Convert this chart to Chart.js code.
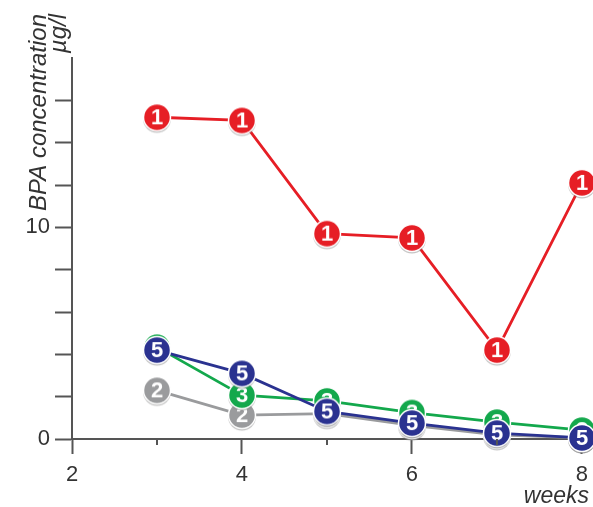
<!DOCTYPE html>
<html>
<head>
<meta charset="utf-8">
<script src="https://cdn.jsdelivr.net/npm/chart.js@4"></script>
<style>
  html, body { margin: 0; padding: 0; background: #fff; }
  #wrap { width: 593px; height: 507px; position: relative; }
</style>
</head>
<body>
<div id="wrap"><canvas id="bpaChart"></canvas></div>
<script>
// Data
const weeks = [3, 4, 5, 6, 7, 8];
const series1 = [15.2, 15.05, 9.7, 9.5, 4.2, 12.1];   // red "1"
const series5 = [4.2, 3.1, 1.3, 0.75, 0.28, 0.05];    // blue "5"
const series3 = [4.34, 2.07, 1.8, 1.25, 0.8, 0.42];   // green "3"
const series2 = [2.3, 1.13, 1.2, 0.65, 0.2, 0.05];    // gray "2"
const yLabelled = [0, 10];
const xMajor = [2, 4, 6, 8];
const xMinor = [3, 5, 7];

const AXIS = "#555";
const TEXT = "#333";

// Round numbered marker used as point style
function makeMarker(color, label) {
  const c = document.createElement("canvas");
  c.width = 34; c.height = 34;
  const ctx = c.getContext("2d");
  // soft shadow
  ctx.beginPath();
  ctx.arc(17, 18.5, 14, 0, Math.PI * 2);
  ctx.fillStyle = "rgba(120,120,120,0.45)";
  ctx.fill();
  ctx.beginPath();
  ctx.arc(17, 17, 13.5, 0, Math.PI * 2);
  ctx.fillStyle = color;
  ctx.fill();
  ctx.lineWidth = 1.5;
  ctx.strokeStyle = "#fff";
  ctx.stroke();
  ctx.fillStyle = "#fff";
  ctx.font = "bold 22px 'Liberation Sans', Arial, sans-serif";
  ctx.textAlign = "center";
  ctx.textBaseline = "middle";
  ctx.fillText(label, 17, 18);
  return c;
}

function toPoints(vals) {
  return vals.map((v, i) => ({ x: weeks[i], y: v }));
}

function makeSet(vals, color, label) {
  return {
    label: label,
    data: toPoints(vals),
    borderColor: color,
    backgroundColor: color,
    borderWidth: 2.8,
    tension: 0,
    pointStyle: makeMarker(color, label),
    pointRadius: 14,
    clip: false
  };
}

// axis titles and minor x ticks
const extrasPlugin = {
  id: "extras",
  afterDraw(chart) {
    const ctx = chart.ctx;
    const xs = chart.scales.x;
    const ys = chart.scales.y;
    ctx.save();
    ctx.strokeStyle = AXIS;
    ctx.lineWidth = 2;
    xMinor.forEach(v => {
      const px = xs.getPixelForValue(v);
      ctx.beginPath();
      ctx.moveTo(px, ys.bottom);
      ctx.lineTo(px, ys.bottom + 6);
      ctx.stroke();
    });

    ctx.fillStyle = TEXT;
    ctx.font = "italic 24px 'Liberation Sans', Arial, sans-serif";
    ctx.textAlign = "right";
    ctx.textBaseline = "alphabetic";
    ctx.save();
    ctx.translate(46, 14);
    ctx.rotate(-Math.PI / 2);
    ctx.fillText("BPA concentration", 0, 0);
    ctx.restore();
    ctx.save();
    ctx.translate(66, 14);
    ctx.rotate(-Math.PI / 2);
    ctx.fillText("µg/l", 0, 0);
    ctx.restore();

    ctx.font = "italic 23px 'Liberation Sans', Arial, sans-serif";
    ctx.fillText("weeks", 589, 503);
    ctx.restore();
  }
};

new Chart(document.getElementById("bpaChart"), {
  type: "line",
  data: {
    datasets: [
      makeSet(series1, "#e61e25", "1"),
      makeSet(series5, "#2a3290", "5"),
      makeSet(series3, "#13a84c", "3"),
      makeSet(series2, "#9a9b9d", "2")
    ]
  },
  options: {
    responsive: true,
    maintainAspectRatio: false,
    animation: false,
    layout: { autoPadding: false, padding: { top: 58, right: 0, left: 0, bottom: 0 } },
    plugins: { legend: { display: false }, tooltip: { enabled: false } },
    scales: {
      x: {
        type: "linear",
        min: 2,
        max: 8.13,
        afterBuildTicks: (scale) => { scale.ticks = xMajor.map(v => ({ value: v })); },
        afterFit: (scale) => {
          scale.height = 68;
          scale.paddingLeft = 0;
          scale.paddingRight = 0;
        },
        border: { color: AXIS, width: 2 },
        grid: { drawOnChartArea: false, tickLength: 15, tickWidth: 2, tickColor: AXIS },
        ticks: {
          color: TEXT,
          padding: 8,
          maxRotation: 0,
          font: { family: "'Liberation Sans', Arial, sans-serif", size: 22 }
        }
      },
      y: {
        min: 0,
        max: 18,
        afterFit: (scale) => {
          scale.width = 72;
          scale.paddingTop = 0;
          scale.paddingBottom = 0;
        },
        border: { color: AXIS, width: 2 },
        grid: {
          drawOnChartArea: false,
          tickLength: 17,
          tickWidth: 2,
          tickColor: (c) => (c.tick && c.tick.value === 18 ? "rgba(0,0,0,0)" : AXIS)
        },
        ticks: {
          stepSize: 2,
          color: TEXT,
          padding: 5,
          font: { family: "'Liberation Sans', Arial, sans-serif", size: 22 },
          callback: (v) => (yLabelled.includes(v) ? String(v) : "")
        }
      }
    }
  },
  plugins: [extrasPlugin]
});
</script>
</body>
</html>
